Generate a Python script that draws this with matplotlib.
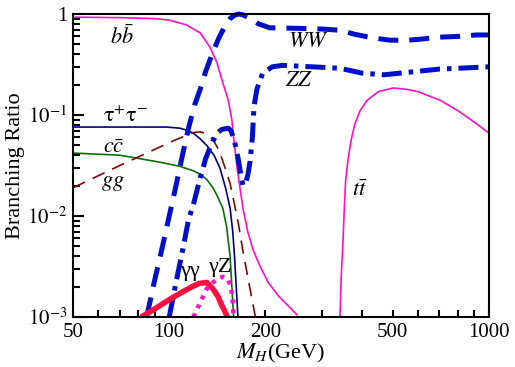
import matplotlib
matplotlib.use("Agg")
from matplotlib import pyplot as plt
from matplotlib.ticker import FixedLocator, NullFormatter
import numpy as np

plt.rcParams['font.family'] = ['Liberation Serif', 'DejaVu Serif']
plt.rcParams['mathtext.fontset'] = 'stix'

# Higgs mass (GeV) and branching ratio for each decay channel
m_bb = [50, 70, 90, 100, 113, 125, 134, 141, 147, 153, 157, 159, 163, 170, 176, 183, 193, 204, 220, 235, 251]
br_bb = [0.93, 0.92, 0.9, 0.87, 0.78, 0.65, 0.47, 0.33, 0.21, 0.14, 0.089, 0.06, 0.03, 0.012, 0.007,
         0.0046, 0.0031, 0.0022, 0.0016, 0.0013, 0.00105]

m_tautau = [50, 70, 98, 108, 113, 119, 125, 131, 138, 144, 150, 155, 158, 160, 162, 164]
br_tautau = [0.076, 0.076, 0.076, 0.074, 0.071, 0.066, 0.058, 0.050, 0.040, 0.030, 0.019, 0.012,
             0.007, 0.004, 0.002, 0.001]

m_cc = [50, 70, 94, 108, 119, 125, 131, 137, 141, 147, 151, 155, 157, 159]
br_cc = [0.042, 0.040, 0.034, 0.031, 0.028, 0.026, 0.023, 0.019, 0.016, 0.012, 0.008, 0.004, 0.002, 0.001]

m_gg = [50, 70, 90, 105, 119, 125, 131, 137, 143, 149, 155, 160, 165, 170, 176, 183, 186]
br_gg = [0.019, 0.0316, 0.0456, 0.057, 0.067, 0.068, 0.065, 0.057, 0.045, 0.031, 0.021, 0.013,
         0.008, 0.0045, 0.0025, 0.0013, 0.001]

m_ww = [85, 90, 95, 100, 105, 110, 115, 120, 125, 130, 137, 143, 150, 155, 160, 165, 170, 180, 190,
        206, 256, 300, 342, 380, 433, 491, 550, 600, 703, 800, 916, 1000]
br_ww = [0.001, 0.0023, 0.0048, 0.01, 0.02, 0.04, 0.075, 0.125, 0.18, 0.27, 0.42, 0.58, 0.78, 0.9,
         0.97, 1.0, 0.98, 0.9, 0.8, 0.73, 0.72, 0.71, 0.69, 0.63, 0.58, 0.55, 0.55, 0.56, 0.59, 0.6,
         0.62, 0.62]

m_zz = [100, 105, 110, 115, 119, 125, 130, 135, 141, 146, 153, 156, 160, 164, 167, 170, 173, 176,
        179, 182, 184, 188, 196, 210, 226, 280, 342, 400, 469, 530, 594, 700, 800, 1000]
br_zz = [0.001, 0.0022, 0.0045, 0.0093, 0.013, 0.024, 0.037, 0.05, 0.066, 0.072, 0.074, 0.07, 0.055,
         0.038, 0.027, 0.02, 0.021, 0.025, 0.035, 0.06, 0.12, 0.18, 0.26, 0.3, 0.31, 0.3, 0.29, 0.26,
         0.25, 0.26, 0.27, 0.285, 0.29, 0.3]

m_tt = [342, 345, 349, 352, 356, 362, 370, 380, 395, 416, 450, 501, 550, 600, 703, 800, 900, 1000]
br_tt = [0.001, 0.0025, 0.005, 0.01, 0.022, 0.035, 0.055, 0.08, 0.11, 0.14, 0.17, 0.185, 0.18, 0.17,
         0.14, 0.11, 0.085, 0.066]

m_gamgam = [83, 90, 97, 104, 111, 118, 124, 131, 137, 142, 146, 149, 152]
br_gamgam = [0.00103, 0.0012, 0.0014, 0.0016, 0.0018, 0.002, 0.00215, 0.0022, 0.0019, 0.0016,
             0.0013, 0.00115, 0.001]

m_gamz = [119, 125, 131, 137, 142, 147, 152, 156, 158, 159]
br_gamz = [0.001, 0.0014, 0.0019, 0.0022, 0.0024, 0.0025, 0.0024, 0.002, 0.0014, 0.001]

x_major = [50, 100, 200, 500, 1000]
x_minor = [60, 70, 80, 90, 300, 400, 600, 700, 800, 900]
y_major = [1e-3, 1e-2, 1e-1, 1]
y_labels = [r'$10^{-3}$', r'$10^{-2}$', r'$10^{-1}$', '1']

fig = plt.figure(figsize=(5.15, 3.67), dpi=100)
ax = fig.add_axes([0.1417, 0.1362, 0.8078, 0.8257])

ax.plot(m_bb, br_bb, color='#ff10c8', lw=1.2)
ax.plot(m_tt, br_tt, color='#ff10c8', lw=1.2)
ax.plot(m_tautau, br_tautau, color='#000080', lw=1.2)
ax.plot(m_cc, br_cc, color='#0a6e0a', lw=1.2)
ax.plot(m_gg, br_gg, color='#7a0a0a', lw=1.2, dashes=(8, 5))
ax.plot(m_ww, br_ww, color='#0010c8', lw=3.6, dashes=(4, 2.2), clip_on=False)
ax.plot(m_zz, br_zz, color='#0010c8', lw=3.6, dashes=(4, 1.4, 0.9, 1.4))
ax.plot(m_gamgam, br_gamgam, color='#ff1040', lw=4)
ax.plot(m_gamz, br_gamz, color='#ff10c8', lw=3.2, dashes=(0.9, 1.3))

ax.set_xscale('log')
ax.set_yscale('log')
ax.set_xlim(50, 1000)
ax.set_ylim(1e-3, 1)

ax.xaxis.set_major_locator(FixedLocator(x_major))
ax.xaxis.set_minor_locator(FixedLocator(x_minor))
ax.set_xticklabels([str(v) for v in x_major])
ax.xaxis.set_minor_formatter(NullFormatter())
ax.yaxis.set_major_locator(FixedLocator(y_major))
ax.set_yticklabels(y_labels)
ax.yaxis.set_minor_locator(FixedLocator(
    [k * 10.0 ** e for e in (-3, -2, -1) for k in range(2, 10)]))
ax.yaxis.set_minor_formatter(NullFormatter())

ax.tick_params(which='both', direction='in', top=False, right=False, width=1.5,
               labelsize=15, pad=4)
ax.tick_params(axis='y', which='major', length=8)
ax.tick_params(axis='y', which='minor', length=5)
ax.tick_params(axis='x', which='both', length=5)
for s in ax.spines.values():
    s.set_linewidth(1.5)

ax.set_xlabel(r'$M_H$(GeV)', fontsize=16, labelpad=0)
ax.set_ylabel('Branching Ratio', fontsize=16, labelpad=2)

tk = dict(fontsize=16, ha='center', va='center')
ax.text(71, 0.59, r'$b\bar{b}$', **tk)
ax.text(273, 0.52, r'$WW$', **tk)
ax.text(254, 0.217, r'$ZZ$', **tk)
ax.text(73, 0.095, r'$\mathrm{τ}^{+}\mathrm{τ}^{-}$', **tk)
ax.text(67, 0.047, r'$c\bar{c}$', **tk)
ax.text(66.6, 0.021, r'$gg$', **tk)
ax.text(395, 0.018, r'$t\bar{t}$', **tk)
ax.text(116, 0.0028, 'γγ', **tk)
ax.text(144, 0.0031, 'γZ', **tk)

fig.savefig('out.png', dpi=100)
